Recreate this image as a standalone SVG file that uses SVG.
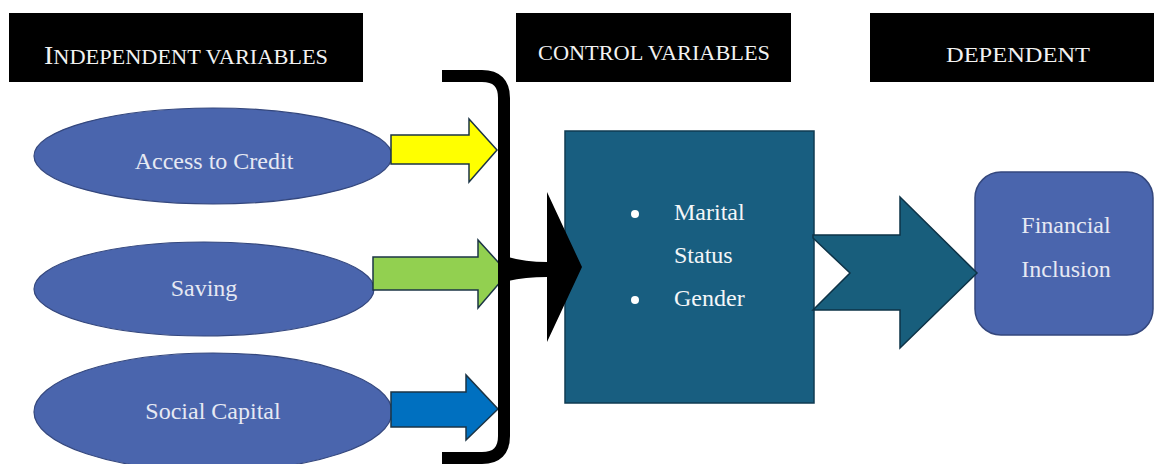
<svg xmlns="http://www.w3.org/2000/svg" width="1154" height="464" viewBox="0 0 1154 464">
<style>
.hdr{fill:#000}
.htxt{font-family:'Liberation Serif','Times New Roman','DejaVu Serif',serif;fill:#f2f2f2}
.ell{fill:#4a65ad;stroke:#34477d;stroke-width:1.2}
.etxt{font-family:'Liberation Serif','Times New Roman','DejaVu Serif',serif;font-size:24px;fill:#e6e9f3;text-anchor:middle}
.arr{stroke:#1b3445;stroke-width:1.5}
.wtxt{font-family:'Liberation Serif','Times New Roman','DejaVu Serif',serif;font-size:24px;fill:#f4f6f8}
</style>
<rect width="1154" height="464" fill="#fff"/>
<g id="hdr-independent">
<rect class="hdr" x="9" y="13" width="354" height="69"/>
<text class="htxt" x="44" y="64" textLength="284" lengthAdjust="spacingAndGlyphs"><tspan font-size="25">I</tspan><tspan font-size="20">NDEPENDENT VARIABLES</tspan></text>
</g>
<g id="hdr-control">
<rect class="hdr" x="516" y="13" width="275" height="69"/>
<text class="htxt" x="538" y="60" font-size="20" textLength="232" lengthAdjust="spacingAndGlyphs">CONTROL VARIABLES</text>
</g>
<g id="hdr-dependent">
<rect class="hdr" x="870" y="13" width="284" height="69"/>
<text class="htxt" x="946" y="62" font-size="22" textLength="144" lengthAdjust="spacingAndGlyphs">DEPENDENT</text>
</g>
<g id="node-credit">
<ellipse class="ell" cx="213" cy="156" rx="179" ry="48"/>
<text class="etxt" x="214" y="169">Access to Credit</text>
</g>
<g id="node-saving">
<ellipse class="ell" cx="204" cy="289" rx="170" ry="47"/>
<text class="etxt" x="204" y="296">Saving</text>
</g>
<g id="node-social">
<ellipse class="ell" cx="213" cy="412" rx="179" ry="59"/>
<text class="etxt" x="213" y="419">Social Capital</text>
</g>
<g id="node-control">
<rect x="565" y="131" width="249" height="272" fill="#185e80" stroke="#0f3b52" stroke-width="1.5"/>
<circle cx="635" cy="214" r="4" fill="#fff"/>
<circle cx="635" cy="300" r="4" fill="#fff"/>
<text class="wtxt" x="674" y="220">Marital</text>
<text class="wtxt" x="674" y="263">Status</text>
<text class="wtxt" x="674" y="306">Gender</text>
</g>
<g id="node-financial">
<rect x="975" y="172" width="178" height="163" rx="26" ry="26" fill="#4a65ad" stroke="#34477d" stroke-width="1.5"/>
<text class="etxt" x="1066" y="233">Financial</text>
<text class="etxt" x="1066" y="277">Inclusion</text>
</g>
<g id="connectors">
<polygon class="arr" fill="#ffff00" points="391,135 469,135 469,119 497,150 469,182 469,164 391,164"/>
<polygon class="arr" fill="#92d050" points="373,257 478,257 478,240 508,273 478,308 478,290 373,290"/>
<polygon class="arr" fill="#0070c0" points="391,392 466,392 466,375 498,409 466,440 466,427 391,427"/>
<path d="M442 76 L482 76 Q504 76 504 98 L504 436 Q504 458 482 458 L442 458" fill="none" stroke="#000" stroke-width="12"/>
<path d="M508 257 Q525 262 547 262 L547 192 L582 267 L547 342 L547 277 Q525 277 508 281 Z" fill="#000"/>
<polygon fill="#185e7c" stroke="#0d3347" stroke-width="1.5" points="813,235 900,235 900,197 977,273 900,348 900,310 813,310 850,273 813,238"/>
</g>
</svg>
